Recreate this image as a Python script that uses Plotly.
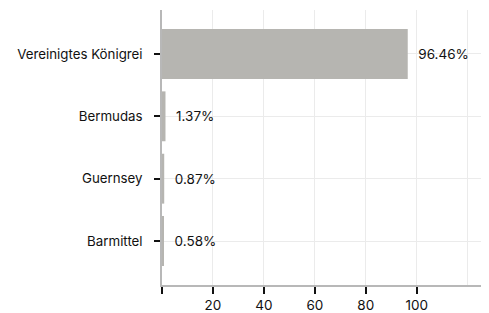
import plotly.graph_objects as go

categories = ["Vereinigtes Königrei", "Bermudas", "Guernsey", "Barmittel"]
values = [96.46, 1.37, 0.87, 0.58]
labels = ["96.46%", "1.37%", "0.87%", "0.58%"]
x_ticks = [0, 20, 40, 60, 80, 100]
x_ticktext = ["", "20", "40", "60", "80", "100"]

fig = go.Figure(go.Bar(
    x=values, y=categories, orientation="h",
    marker=dict(color="#b6b5b1", line=dict(width=0)),
    width=0.8,
    text=["  " + t for t in labels], textposition="outside", cliponaxis=False,
    textfont=dict(color="#111111", size=13.5, family="Inter"),
))

# page body has an 8px margin, so margins are shifted to compensate
fig.update_layout(
    width=489, height=313,
    margin=dict(l=154, r=14, t=2, b=36, autoexpand=False),
    plot_bgcolor="white", paper_bgcolor="white",
    font=dict(family="Inter", size=13.5, color="#111111"),
    showlegend=False,
    bargap=0.2,
)
fig.update_xaxes(
    range=[0, 126], tickvals=x_ticks, ticktext=x_ticktext,
    showgrid=True, gridcolor="#ebebeb", gridwidth=1,
    showline=True, linecolor="#b8b8b8", linewidth=1.5,
    ticks="outside", ticklen=7, tickcolor="#111111", tickwidth=1.5,
    zeroline=False, automargin=False,
    minor=dict(tickvals=[120], showgrid=True, gridcolor="#ebebeb", ticks=""),
)
fig.update_yaxes(
    categoryorder="array", categoryarray=categories[::-1],
    range=[-0.705, 3.705],
    showgrid=True, gridcolor="#ebebeb", gridwidth=1,
    showline=True, linecolor="#b8b8b8", linewidth=1.5,
    ticks="outside", ticklen=6, tickcolor="#111111", tickwidth=1.5,
    ticklabelstandoff=9, automargin=False,
    tickfont=dict(size=13.3),
)

fig.write_html("out.html")
